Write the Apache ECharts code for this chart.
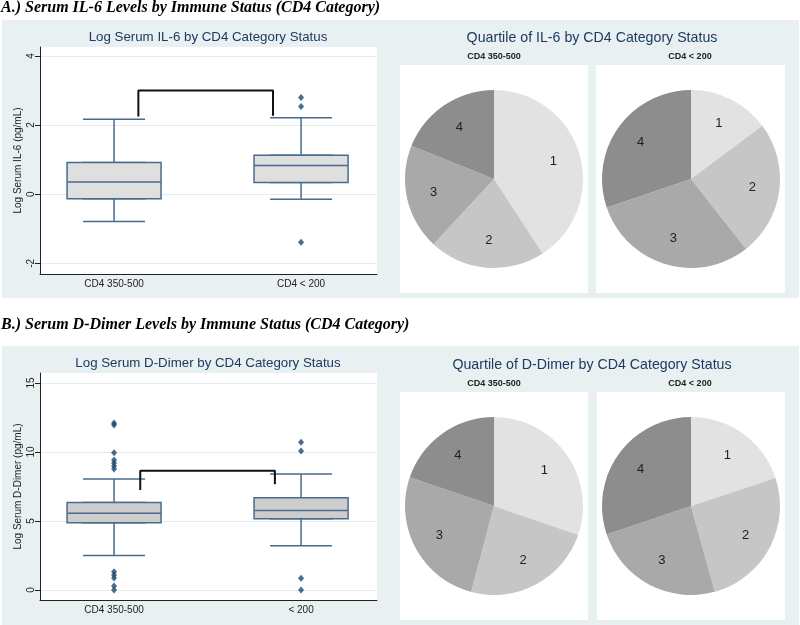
<!DOCTYPE html>
<html><head><meta charset="utf-8">
<script src="https://cdn.jsdelivr.net/npm/echarts@6/dist/echarts.min.js"></script>
<style>html,body{margin:0;padding:0;background:#fff}#c{width:800px;height:625px}</style>
</head><body><div id="c"></div>
<script>
// ---------- data ----------
const sectionTitles = ['A.) Serum IL-6 Levels by Immune Status (CD4 Category)', 'B.) Serum D-Dimer Levels by Immune Status (CD4 Category)'];
const boxTitles = ['Log Serum IL-6 by CD4 Category Status', 'Log Serum D-Dimer by CD4 Category Status'];
const pieTitles = ['Quartile of IL-6 by CD4 Category Status', 'Quartile of D-Dimer by CD4 Category Status'];
const yNames = ['Log Serum IL-6 (pg/mL)', 'Log Serum D-Dimer (pg/mL)'];
const boxCatsA = ['CD4 350-500', 'CD4 < 200'];
const boxCatsB = ['CD4 350-500', '< 200'];
const pieGroups = ['CD4 350-500', 'CD4 < 200'];
const il6Ticks = [-2, 0, 2, 4];
const ddTicks = [0, 5, 10, 15];
// [min, Q1, median, Q3, max]
const il6Box = [[-0.79, -0.13, 0.35, 0.92, 2.17], [-0.15, 0.34, 0.83, 1.13, 2.21]];
const il6Outliers = [[], [2.80, 2.54, -1.39]];
const ddBox = [[2.51, 4.88, 5.56, 6.35, 8.04], [3.21, 5.17, 5.77, 6.69, 8.41]];
const ddOutliers = [[12.1, 11.95, 9.95, 9.42, 9.2, 8.99, 8.77, 1.33, 1.09, 0.87, 0.3, 0.0], [10.70, 10.07, 0.85, 0.0]];
const il6Bracket = [[1.13, 2.25], [1.13, 3.0], [1.85, 3.0], [1.85, 2.27]];
const ddBracket = [[1.14, 7.25], [1.14, 8.64], [1.86, 8.64], [1.86, 7.66]];
const quartiles = ['1', '2', '3', '4'];
const il6PieLow = [40.8, 21.1, 19.2, 18.9];
const il6PieHigh = [14.8, 24.6, 30.4, 30.2];
const ddPieLow = [30.3, 23.9, 26.1, 19.8];
const ddPieHigh = [19.9, 25.8, 24.1, 30.2];

// ---------- styles ----------
const FONT = '"Liberation Sans", Arial, sans-serif';
const BG = '#e8f0f2';
const TITLE_C = '#1e3a60';
const TXT = '#222';
const BOXLINE = '#4a6b8e';
const pieColors = ['#e2e2e2', '#c6c6c6', '#a9a9a9', '#8d8d8d'];
const X_MIN = 0.604, X_MAX = 2.406;
const Y_A = [-2.31, 4.26], Y_B = [-0.72, 15.72];

const chart = echarts.init(document.getElementById('c'), null, {renderer: 'canvas'});

function xAx(gi, cats, hidden) {
  if (hidden) return {type: 'value', gridIndex: gi, min: X_MIN, max: X_MAX, show: false};
  return {
    type: 'value', gridIndex: gi, min: X_MIN, max: X_MAX,
    axisLine: {show: true, onZero: false, lineStyle: {color: TXT, width: 1}},
    axisTick: {show: false}, splitLine: {show: false},
    axisLabel: {customValues: [1, 2], formatter: v => cats[Math.round(v) - 1] || '', fontSize: 10, color: TXT, fontFamily: FONT, margin: 5}
  };
}
function yAx(gi, ext, ticks, name, hidden) {
  if (hidden) return {type: 'value', gridIndex: gi, min: ext[0], max: ext[1], show: false};
  return {
    type: 'value', gridIndex: gi, min: ext[0], max: ext[1], name: name, nameLocation: 'middle', nameGap: 17,
    nameTextStyle: {fontSize: 10, color: TXT, fontFamily: FONT},
    axisLine: {show: true, onZero: false, lineStyle: {color: TXT, width: 1}},
    axisTick: {show: true, length: 5, customValues: ticks, lineStyle: {color: TXT}},
    axisLabel: {customValues: ticks, rotate: 90, fontSize: 10, color: TXT, fontFamily: FONT, margin: 4},
    splitLine: {show: true, lineStyle: {color: '#e2ecef', width: 1}}
  };
}
// gi: visible grid (whiskers, outliers, bracket); bi: overlapping grid for the box body
function boxSeries(gi, bi, boxes, outliers, bracket, fill) {
  return [
    { type: 'boxplot', xAxisIndex: gi, yAxisIndex: gi, silent: true, boxWidth: [62, 62],
      data: boxes.map((b, i) => [i + 1].concat(b)),
      itemStyle: {color: fill, borderColor: BOXLINE, borderWidth: 1.5} },
    { type: 'boxplot', xAxisIndex: bi, yAxisIndex: bi, silent: true, boxWidth: [94, 94], z: 3,
      data: boxes.map((b, i) => [i + 1, b[1], b[1], b[2], b[3], b[3]]),
      itemStyle: {color: fill, borderColor: BOXLINE, borderWidth: 1.5} },
    { type: 'scatter', xAxisIndex: gi, yAxisIndex: gi, silent: true, symbol: 'diamond', symbolSize: [6, 7], z: 4,
      data: outliers.flatMap((arr, i) => arr.map(v => [i + 1, v])),
      itemStyle: {color: '#1a476f'} },
    { type: 'line', xAxisIndex: gi, yAxisIndex: gi, silent: true, symbol: 'none', data: bracket,
      lineStyle: {color: '#111', width: 2}, z: 5 }
  ];
}
function pieSeries(center, values) {
  return [
    { type: 'pie', center: center, radius: [0, 89], startAngle: 90, clockwise: true, silent: true,
      label: {show: false}, labelLine: {show: false},
      data: values.map((v, i) => ({name: quartiles[i], value: v, itemStyle: {color: pieColors[i]}})) },
    { type: 'pie', center: center, radius: [0, 118], startAngle: 90, clockwise: true, silent: true,
      itemStyle: {color: 'rgba(0,0,0,0)'}, labelLine: {show: false},
      label: {show: true, position: 'inside', formatter: '{b}', fontSize: 13, color: TXT, fontFamily: FONT},
      data: values.map((v, i) => ({name: quartiles[i], value: v})) }
  ];
}
function txt(x, y, s, font, fill, align) {
  return {type: 'text', x: x, y: y, z: 10, style: {text: s, font: font, fill: fill, textAlign: align || 'center', textVerticalAlign: 'middle'}};
}
function rect(x, y, w, h, fill, z) {
  return {type: 'rect', shape: {x: x, y: y, width: w, height: h}, style: {fill: fill}, z: z, silent: true};
}

const gridA = {left: 40, top: 47, width: 337, height: 227};
const gridB = {left: 40, top: 373, width: 337, height: 227};

const option = {
  animation: false,
  backgroundColor: '#fff',
  graphic: {elements: [
    rect(2, 20, 797, 278, BG, -10),
    rect(2, 346, 797, 279, BG, -10),
    rect(400, 65, 188, 228, '#fff', -5),
    rect(596, 65, 189, 228, '#fff', -5),
    rect(400, 392, 188, 228, '#fff', -5),
    rect(597, 392, 188, 228, '#fff', -5),
    txt(1, 8, sectionTitles[0], 'italic bold 16px "Liberation Serif", serif', '#000', 'left'),
    txt(1, 325, sectionTitles[1], 'italic bold 16px "Liberation Serif", serif', '#000', 'left'),
    txt(208, 37, boxTitles[0], '13.3px ' + FONT, TITLE_C),
    txt(208, 363, boxTitles[1], '13.3px ' + FONT, TITLE_C),
    txt(592, 38, pieTitles[0], '14.2px ' + FONT, TITLE_C),
    txt(592, 365, pieTitles[1], '14.2px ' + FONT, TITLE_C),
    txt(494, 57, pieGroups[0], 'bold 9px ' + FONT, TXT),
    txt(690, 57, pieGroups[1], 'bold 9px ' + FONT, TXT),
    txt(494, 384, pieGroups[0], 'bold 9px ' + FONT, TXT),
    txt(690, 384, pieGroups[1], 'bold 9px ' + FONT, TXT)
  ]},
  grid: [
    Object.assign({show: true, backgroundColor: '#fff', borderWidth: 0}, gridA),
    Object.assign({show: true, backgroundColor: '#fff', borderWidth: 0}, gridB),
    Object.assign({show: false}, gridA),
    Object.assign({show: false}, gridB)
  ],
  xAxis: [xAx(0, boxCatsA), xAx(1, boxCatsB), xAx(2, null, true), xAx(3, null, true)],
  yAxis: [yAx(0, Y_A, il6Ticks, yNames[0]), yAx(1, Y_B, ddTicks, yNames[1]), yAx(2, Y_A, null, null, true), yAx(3, Y_B, null, null, true)],
  series: [].concat(
    boxSeries(0, 2, il6Box, il6Outliers, il6Bracket, '#dfdfdf'),
    boxSeries(1, 3, ddBox, ddOutliers, ddBracket, '#cdcdcd'),
    pieSeries([494, 179], il6PieLow),
    pieSeries([691, 179], il6PieHigh),
    pieSeries([494, 506], ddPieLow),
    pieSeries([691, 506], ddPieHigh)
  )
};
chart.setOption(option);
</script></body></html>
